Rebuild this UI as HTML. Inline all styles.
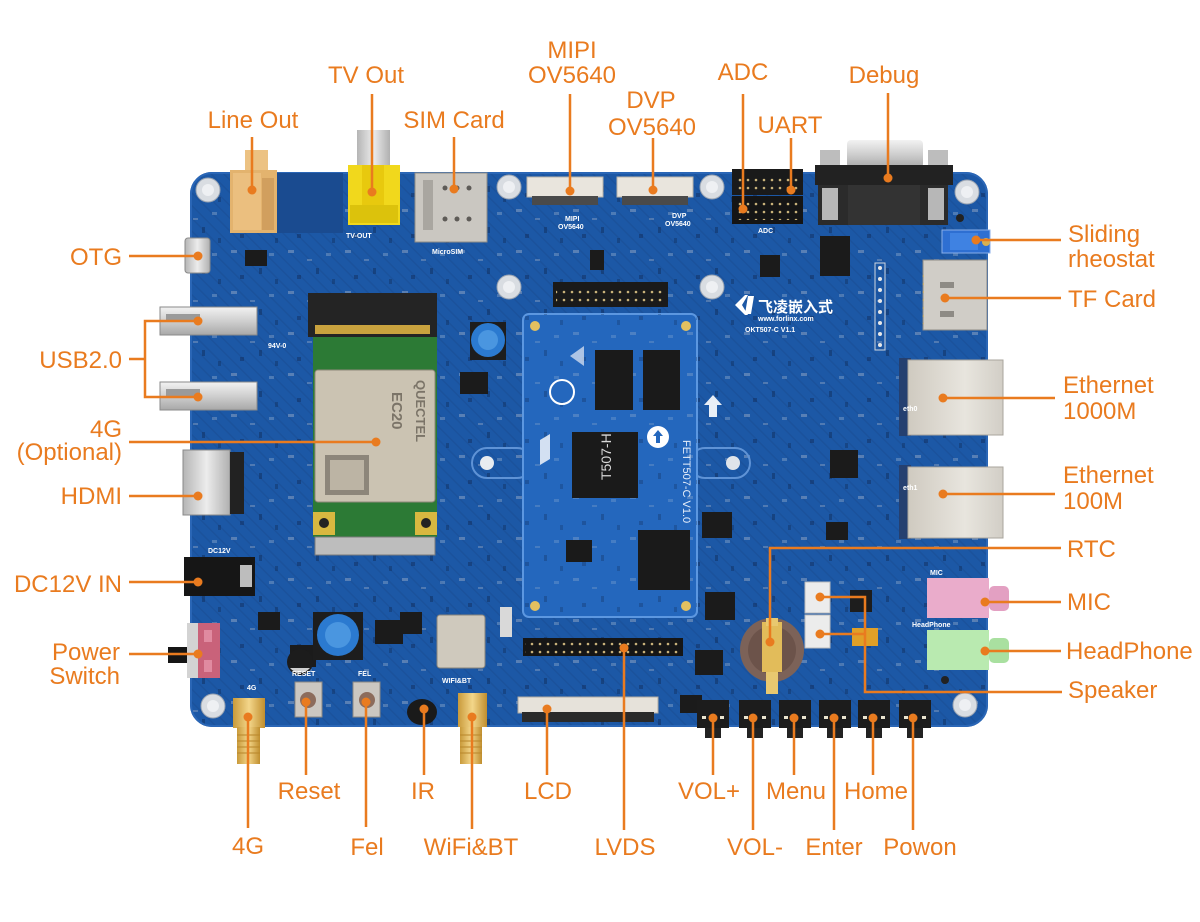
<!DOCTYPE html>
<html><head><meta charset="utf-8">
<style>
html,body{margin:0;padding:0;background:#fff;}
svg{display:block;}
.l{font-family:"Liberation Sans","Noto Sans CJK SC",sans-serif;font-size:24px;fill:#e97b1f;}
.s{font-family:"Liberation Sans",sans-serif;font-size:7px;fill:#fff;font-weight:bold;}
.ln{stroke:#e97b1f;stroke-width:2.5;fill:none;}
.d{fill:#e97b1f;}
</style></head><body>
<svg width="1200" height="922" viewBox="0 0 1200 922" xmlns="http://www.w3.org/2000/svg">
<defs>
 <pattern id="smd" width="57" height="41" patternUnits="userSpaceOnUse">
   <rect x="3" y="4" width="6" height="3" fill="#c7ccd3" opacity=".35"/>
   <rect x="31" y="22" width="3" height="6" fill="#0f2a55" opacity=".45"/>
   <rect x="41" y="7" width="5" height="3" fill="#dfe3e8" opacity=".25"/>
   <rect x="12" y="29" width="4" height="4" fill="#10244a" opacity=".4"/>
   <rect x="22" y="13" width="5" height="2" fill="#c7ccd3" opacity=".3"/>
   <rect x="47" y="33" width="3" height="5" fill="#0f2a55" opacity=".4"/>
 </pattern>
 <pattern id="trace" width="9" height="9" patternUnits="userSpaceOnUse" patternTransform="rotate(45)">
   <rect width="9" height="1.5" fill="#164585" opacity=".3"/>
 </pattern>
 <pattern id="pins" width="8" height="8" patternUnits="userSpaceOnUse">
   <circle cx="4" cy="4" r="1.3" fill="#c9b27a"/>
 </pattern>
 <linearGradient id="silver" x1="0" y1="0" x2="0" y2="1">
   <stop offset="0" stop-color="#f2f2f2"/><stop offset=".5" stop-color="#cfcfcf"/><stop offset="1" stop-color="#a8a8a8"/>
 </linearGradient>
 <linearGradient id="silverh" x1="0" y1="0" x2="1" y2="0">
   <stop offset="0" stop-color="#b5b5b5"/><stop offset=".5" stop-color="#ececec"/><stop offset="1" stop-color="#b0b0b0"/>
 </linearGradient>
 <linearGradient id="gold" x1="0" y1="0" x2="1" y2="0">
   <stop offset="0" stop-color="#c99a3a"/><stop offset=".5" stop-color="#f3d68a"/><stop offset="1" stop-color="#c08e2e"/>
 </linearGradient>
 <linearGradient id="eth" x1="0" y1="0" x2="1" y2="0">
   <stop offset="0" stop-color="#cfcac0"/><stop offset=".6" stop-color="#e8e5de"/><stop offset="1" stop-color="#d2cec6"/>
 </linearGradient>
</defs>

<rect width="1200" height="922" fill="#fff"/>

<!-- parts behind board top edge -->
<rect x="245" y="150" width="23" height="24" fill="#ecc283"/>
<rect x="357" y="130" width="33" height="38" fill="url(#silverh)"/>
<rect x="847" y="140" width="76" height="28" rx="4" fill="url(#silver)"/>
<rect x="820" y="150" width="20" height="20" fill="#bdbdbd"/>
<rect x="928" y="150" width="20" height="20" fill="#bdbdbd"/>

<!-- board -->
<rect x="190" y="172" width="798" height="555" rx="22" fill="#1c58a6"/>
<rect x="190" y="172" width="798" height="555" rx="22" fill="url(#trace)"/>
<rect x="190" y="172" width="798" height="555" rx="22" fill="url(#smd)"/>
<rect x="191" y="173" width="796" height="553" rx="21" fill="none" stroke="#2a66b6" stroke-width="2"/>

<!-- darker regions -->
<rect x="277" y="173" width="66" height="60" fill="#1a4b90"/>

<!-- mounting holes -->
<g fill="#d9dde2" stroke="#9aa4b2" stroke-width="1">
 <circle cx="208" cy="190" r="12"/><circle cx="509" cy="187" r="12"/><circle cx="712" cy="187" r="12"/>
 <circle cx="509" cy="287" r="12"/><circle cx="712" cy="287" r="12"/><circle cx="967" cy="192" r="12"/>
 <circle cx="965" cy="705" r="12"/><circle cx="213" cy="706" r="12"/>
</g>
<g fill="#eef0f3">
 <circle cx="208" cy="190" r="6"/><circle cx="509" cy="187" r="6"/><circle cx="712" cy="187" r="6"/>
 <circle cx="509" cy="287" r="6"/><circle cx="712" cy="287" r="6"/><circle cx="967" cy="192" r="6"/>
 <circle cx="965" cy="705" r="6"/><circle cx="213" cy="706" r="6"/>
</g>
<!-- oval hole areas beside core -->
<rect x="472" y="448" width="60" height="30" rx="15" fill="none" stroke="#5f93d6" stroke-width="2"/>
<circle cx="487" cy="463" r="7" fill="#e8ecf0"/>
<rect x="690" y="448" width="60" height="30" rx="15" fill="none" stroke="#5f93d6" stroke-width="2"/>
<circle cx="733" cy="463" r="7" fill="#dfe4ea"/>

<!-- Line Out jack -->
<rect x="230" y="170" width="47" height="63" fill="#e3b36e"/>
<rect x="233" y="173" width="28" height="57" fill="#ebbf7f"/>
<rect x="262" y="178" width="12" height="52" fill="#d19f5e"/>

<!-- TV out -->
<rect x="348" y="165" width="52" height="60" fill="#f1d81c"/>
<rect x="362" y="165" width="22" height="58" fill="#e8c90e"/>
<rect x="350" y="205" width="48" height="18" fill="#dcc20c"/>
<text x="346" y="238" class="s">TV-OUT</text>

<!-- SIM -->
<rect x="415" y="173" width="72" height="69" fill="#cac7c1" stroke="#8f8c86"/>
<rect x="423" y="180" width="10" height="50" fill="#a9a6a0"/>
<g fill="#5e5b57"><circle cx="445" cy="188" r="2.5"/><circle cx="457" cy="188" r="2.5"/><circle cx="469" cy="188" r="2.5"/>
<circle cx="445" cy="219" r="2.5"/><circle cx="457" cy="219" r="2.5"/><circle cx="469" cy="219" r="2.5"/></g>
<text x="432" y="254" class="s">MicroSIM</text>

<!-- MIPI / DVP FPC -->
<rect x="527" y="177" width="76" height="20" fill="#e9e5dd" stroke="#b9b4ab"/>
<rect x="532" y="196" width="66" height="9" fill="#4a4a4a"/>
<rect x="617" y="177" width="76" height="20" fill="#e9e5dd" stroke="#b9b4ab"/>
<rect x="622" y="196" width="66" height="9" fill="#4a4a4a"/>
<text x="565" y="221" class="s">MIPI</text><text x="558" y="229" class="s">OV5640</text>
<text x="672" y="218" class="s">DVP</text><text x="665" y="226" class="s">OV5640</text>

<!-- headers UART / ADC -->
<rect x="732" y="169" width="71" height="26" fill="#1a1a1a"/>
<rect x="732" y="196" width="71" height="28" fill="#151515"/>
<rect x="738" y="174" width="60" height="18" fill="url(#pins)"/>
<rect x="738" y="202" width="60" height="18" fill="url(#pins)"/>
<text x="758" y="233" class="s">ADC</text>

<!-- DB9 -->
<rect x="815" y="165" width="138" height="20" fill="#222"/>
<rect x="818" y="185" width="130" height="40" fill="#2b2b2b"/>
<rect x="848" y="185" width="72" height="40" fill="#333"/>
<rect x="822" y="188" width="16" height="32" fill="#b7b7b7"/>
<rect x="928" y="188" width="16" height="32" fill="#b7b7b7"/>
<circle cx="960" cy="218" r="4" fill="#222"/>

<!-- rheostat -->
<rect x="942" y="230" width="48" height="23" fill="#2e6fd2" stroke="#88aee8"/>
<rect x="950" y="233" width="28" height="17" fill="#3f82e2"/>
<circle cx="986" cy="242" r="4" fill="#d8b050"/>

<!-- TF card -->
<rect x="923" y="260" width="64" height="70" fill="#d0cdc7" stroke="#8e8b85"/>
<rect x="940" y="282" width="14" height="6" fill="#8e8b85"/>
<rect x="940" y="311" width="14" height="6" fill="#8e8b85"/>
<rect x="920" y="270" width="4" height="54" fill="url(#pins)"/>

<!-- P12 column -->
<rect x="875" y="263" width="10" height="87" fill="none" stroke="#cfd6df" stroke-width="1"/>
<g fill="#e8e8e8"><circle cx="880" cy="268" r="2"/><circle cx="880" cy="279" r="2"/><circle cx="880" cy="290" r="2"/><circle cx="880" cy="301" r="2"/><circle cx="880" cy="312" r="2"/><circle cx="880" cy="323" r="2"/><circle cx="880" cy="334" r="2"/><circle cx="880" cy="345" r="2"/></g>

<!-- Forlinx logo -->
<path d="M735 305 l10 -10 l3 0 l-6 10 l6 10 l-3 0 z M748 296 l6 0 l-3 18 l-6 0 z" fill="#fff"/>
<text x="758" y="312" font-family="'Liberation Sans','Noto Sans CJK SC',sans-serif" font-size="15" font-weight="bold" fill="#fff">飞凌嵌入式</text>
<text x="758" y="321" class="s" font-size="6">www.forlinx.com</text>
<text x="745" y="332" class="s">OKT507-C V1.1</text>

<!-- Ethernet -->
<rect x="899" y="358" width="12" height="78" fill="#254070"/>
<rect x="908" y="360" width="95" height="75" fill="url(#eth)" stroke="#a9a59d"/>
<text x="903" y="411" class="s">eth0</text>
<rect x="899" y="465" width="12" height="74" fill="#254070"/>
<rect x="908" y="467" width="95" height="71" fill="url(#eth)" stroke="#a9a59d"/>
<text x="903" y="490" class="s">eth1</text>

<!-- audio jacks -->
<text x="930" y="575" class="s">MIC</text>
<rect x="927" y="578" width="62" height="40" fill="#eaaccb"/>
<rect x="989" y="586" width="20" height="25" rx="5" fill="#e3a0c2"/>
<text x="912" y="627" class="s">HeadPhone</text>
<rect x="927" y="630" width="62" height="40" fill="#b9eab0"/>
<rect x="989" y="638" width="20" height="25" rx="5" fill="#a9e0a0"/>
<circle cx="945" cy="680" r="4" fill="#222"/>

<!-- white connectors -->
<rect x="805" y="582" width="25" height="31" fill="#ececec" stroke="#bdbdbd"/>
<rect x="805" y="615" width="25" height="33" fill="#ececec" stroke="#bdbdbd"/>
<rect x="850" y="590" width="22" height="22" fill="#1d1d1d"/>
<rect x="852" y="628" width="26" height="18" fill="#e0a028"/>

<!-- coin battery -->
<circle cx="772" cy="650" r="32" fill="#7c6258"/>
<circle cx="772" cy="650" r="24" fill="#6c534a"/>
<rect x="762" y="622" width="20" height="50" fill="#e2bc5a"/>
<rect x="766" y="672" width="12" height="22" fill="#e8c870"/>
<rect x="766" y="618" width="12" height="8" fill="#e8c870"/>

<!-- misc chips -->
<g fill="#1b1b1b">
 <rect x="245" y="250" width="22" height="16"/><rect x="590" y="250" width="14" height="20"/>
 <rect x="820" y="236" width="30" height="40"/><rect x="830" y="450" width="28" height="28"/>
 <rect x="826" y="522" width="22" height="18"/><rect x="460" y="372" width="28" height="22"/>
 <rect x="290" y="645" width="26" height="22"/><rect x="375" y="620" width="28" height="24"/>
 <rect x="705" y="592" width="30" height="28"/><rect x="695" y="650" width="28" height="25"/>
 <rect x="702" y="512" width="30" height="26"/><rect x="760" y="255" width="20" height="22"/>
 <rect x="400" y="612" width="22" height="22"/><rect x="258" y="612" width="22" height="18"/>
 <rect x="680" y="695" width="22" height="18"/>
</g>
<!-- Power inductor near bottom -->
<rect x="313" y="612" width="50" height="48" fill="#1d1d1d"/>
<circle cx="338" cy="635" r="21" fill="#2b7ad0"/>
<circle cx="338" cy="635" r="13" fill="#4a96e0"/>
<circle cx="300" cy="662" r="13" fill="#1c1c1c"/>
<path d="M290 668 a13 13 0 0 0 20 0 z" fill="#cfcfcf"/>

<!-- WiFi module -->
<rect x="437" y="615" width="48" height="53" rx="3" fill="#cfc9bd" stroke="#8a857c"/>
<rect x="500" y="607" width="12" height="30" fill="#d9d9d9"/>

<!-- LVDS header -->
<rect x="523" y="638" width="160" height="18" fill="#161616"/>
<rect x="525" y="639" width="156" height="16" fill="url(#pins)"/>

<!-- LCD connector -->
<rect x="518" y="697" width="140" height="16" fill="#e6e2da" stroke="#b0aba2"/>
<rect x="522" y="712" width="132" height="10" fill="#2a2a2a"/>

<!-- Reset / Fel buttons -->
<rect x="295" y="682" width="27" height="35" fill="#cbc7c1" stroke="#8c8984"/>
<circle cx="308" cy="700" r="8" fill="#8c6c5c"/>
<text x="292" y="676" class="s">RESET</text>
<rect x="353" y="682" width="27" height="35" fill="#cbc7c1" stroke="#8c8984"/>
<circle cx="367" cy="700" r="8" fill="#8c6c5c"/>
<text x="358" y="676" class="s">FEL</text>

<!-- IR -->
<ellipse cx="422" cy="712" rx="15" ry="13" fill="#1a1a1a"/>
<text x="442" y="683" class="s">WIFI&amp;BT</text>
<text x="247" y="690" class="s">4G</text>

<!-- core module -->
<rect x="523" y="314" width="174" height="303" rx="6" fill="#2467bd" stroke="#5c97e0" stroke-width="2"/>
<rect x="523" y="314" width="174" height="303" rx="6" fill="url(#smd)" opacity=".7"/>
<g fill="#1a1a1a">
 <rect x="595" y="350" width="38" height="60"/><rect x="643" y="350" width="37" height="60"/>
 <rect x="572" y="432" width="66" height="66"/><rect x="638" y="530" width="52" height="60"/>
 <rect x="566" y="540" width="26" height="22"/>
</g>
<text transform="translate(611,480) rotate(-90)" font-family="'Liberation Sans',sans-serif" font-size="14" fill="#d8d8d8">T507-H</text>
<circle cx="658" cy="437" r="11" fill="#fff"/>
<path d="M658 430 l-5 6 h3 v7 h4 v-7 h3 z" fill="#2467bd"/>
<path d="M570 356 l14 -10 l0 20 z" fill="#d0dcef" opacity=".8"/>
<circle cx="562" cy="392" r="12" fill="none" stroke="#fff" stroke-width="2"/>
<g fill="#e2c060"><circle cx="535" cy="326" r="5"/><circle cx="686" cy="326" r="5"/><circle cx="535" cy="606" r="5"/><circle cx="686" cy="606" r="5"/></g>
<text transform="translate(683,440) rotate(90)" font-family="'Liberation Sans',sans-serif" font-size="11" fill="#e6eefa">FETT507-C V1.0</text>
<path d="M540 440 l10 -6 l0 25 l-10 6 z" fill="#fff" opacity=".8"/>

<!-- P38 header -->
<rect x="553" y="282" width="115" height="25" fill="#1a1a1a"/>
<rect x="556" y="286" width="110" height="18" fill="url(#pins)"/>
<!-- inductor L1 -->
<rect x="470" y="322" width="36" height="38" fill="#1d1d1d"/>
<circle cx="488" cy="340" r="17" fill="#2b7ad0"/>
<circle cx="488" cy="340" r="10" fill="#4a96e0"/>
<!-- board arrow -->
<path d="M713 395 l-9 10 h5 v12 h8 v-12 h5 z" fill="#e8eef6"/>

<!-- M.2 4G module -->
<rect x="308" y="293" width="129" height="44" fill="#242424"/>
<rect x="315" y="325" width="115" height="9" fill="#c9a23e"/>
<rect x="313" y="337" width="124" height="200" fill="#2c7a35"/>
<rect x="315" y="370" width="120" height="132" rx="3" fill="#cbc3b2" stroke="#8f887a"/>
<rect x="325" y="455" width="44" height="40" fill="#8d867a"/>
<rect x="330" y="460" width="34" height="30" fill="#bcb4a4"/>
<text transform="translate(392,392) rotate(90)" font-family="'Liberation Sans',sans-serif" font-size="15" font-weight="bold" fill="#7b7468">EC20</text>
<text transform="translate(416,380) rotate(90)" font-family="'Liberation Sans',sans-serif" font-size="13" font-weight="bold" fill="#7b7468">QUECTEL</text>
<rect x="313" y="512" width="22" height="23" fill="#d8b840"/>
<rect x="415" y="512" width="22" height="23" fill="#d8b840"/>
<circle cx="324" cy="523" r="5" fill="#222"/><circle cx="426" cy="523" r="5" fill="#222"/>
<rect x="315" y="537" width="120" height="18" fill="#bdbdbd" stroke="#7a7a7a"/>

<!-- left edge connectors -->
<rect x="185" y="238" width="25" height="35" rx="3" fill="url(#silverh)" stroke="#8a8a8a"/>
<rect x="160" y="307" width="97" height="28" fill="url(#silver)" stroke="#8a8a8a"/>
<rect x="166" y="314" width="34" height="8" fill="#9a9a9a"/>
<rect x="160" y="382" width="97" height="28" fill="url(#silver)" stroke="#8a8a8a"/>
<rect x="166" y="389" width="34" height="8" fill="#9a9a9a"/>
<text x="268" y="348" class="s">94V-0</text>
<rect x="183" y="450" width="47" height="65" fill="url(#silverh)" stroke="#8a8a8a"/>
<rect x="230" y="452" width="14" height="62" fill="#222"/>
<text x="208" y="553" class="s">DC12V</text>
<rect x="184" y="557" width="71" height="39" fill="#161616"/>
<rect x="240" y="565" width="12" height="22" fill="#bdbdbd"/>
<rect x="168" y="647" width="19" height="16" fill="#151515"/>
<rect x="187" y="623" width="12" height="55" fill="#d3d3d3"/>
<rect x="198" y="623" width="22" height="55" fill="#c9627a"/>
<rect x="204" y="630" width="8" height="12" fill="#e08aa0"/>
<rect x="204" y="660" width="8" height="12" fill="#e08aa0"/>

<!-- antennas -->
<rect x="233" y="698" width="32" height="30" fill="url(#gold)"/>
<rect x="237" y="727" width="23" height="37" fill="url(#gold)"/>
<g stroke="#b8862a" stroke-width="1"><line x1="237" y1="735" x2="260" y2="735"/><line x1="237" y1="741" x2="260" y2="741"/><line x1="237" y1="747" x2="260" y2="747"/><line x1="237" y1="753" x2="260" y2="753"/></g>
<rect x="458" y="693" width="29" height="34" fill="url(#gold)"/>
<rect x="460" y="727" width="22" height="37" fill="url(#gold)"/>
<g stroke="#b8862a" stroke-width="1"><line x1="460" y1="735" x2="482" y2="735"/><line x1="460" y1="741" x2="482" y2="741"/><line x1="460" y1="747" x2="482" y2="747"/><line x1="460" y1="753" x2="482" y2="753"/></g>

<!-- bottom tact buttons -->
<g>
 <rect x="697" y="700" width="32" height="28" fill="#1c1c1c"/><rect x="705" y="728" width="16" height="10" fill="#222"/>
 <rect x="739" y="700" width="32" height="28" fill="#1c1c1c"/><rect x="747" y="728" width="16" height="10" fill="#222"/>
 <rect x="779" y="700" width="32" height="28" fill="#1c1c1c"/><rect x="787" y="728" width="16" height="10" fill="#222"/>
 <rect x="819" y="700" width="32" height="28" fill="#1c1c1c"/><rect x="827" y="728" width="16" height="10" fill="#222"/>
 <rect x="858" y="700" width="32" height="28" fill="#1c1c1c"/><rect x="866" y="728" width="16" height="10" fill="#222"/>
 <rect x="899" y="700" width="32" height="28" fill="#1c1c1c"/><rect x="907" y="728" width="16" height="10" fill="#222"/>
</g>
<g fill="#e9e4d0">
 <rect x="702" y="716" width="4" height="3"/><rect x="720" y="716" width="4" height="3"/>
 <rect x="744" y="716" width="4" height="3"/><rect x="762" y="716" width="4" height="3"/>
 <rect x="784" y="716" width="4" height="3"/><rect x="802" y="716" width="4" height="3"/>
 <rect x="824" y="716" width="4" height="3"/><rect x="842" y="716" width="4" height="3"/>
 <rect x="863" y="716" width="4" height="3"/><rect x="881" y="716" width="4" height="3"/>
 <rect x="904" y="716" width="4" height="3"/><rect x="922" y="716" width="4" height="3"/>
</g>

<!-- ===== callout lines ===== -->
<g class="ln">
 <line x1="252" y1="137" x2="252" y2="190"/>
 <line x1="372" y1="94" x2="372" y2="192"/>
 <line x1="454" y1="137" x2="454" y2="189"/>
 <line x1="570" y1="94" x2="570" y2="191"/>
 <line x1="653" y1="138" x2="653" y2="190"/>
 <line x1="743" y1="94" x2="743" y2="209"/>
 <line x1="791" y1="138" x2="791" y2="190"/>
 <line x1="888" y1="93" x2="888" y2="178"/>

 <line x1="976" y1="240" x2="1061" y2="240"/>
 <line x1="945" y1="298" x2="1061" y2="298"/>
 <line x1="943" y1="398" x2="1055" y2="398"/>
 <line x1="943" y1="494" x2="1055" y2="494"/>
 <polyline points="770,642 770,548 1061,548"/>
 <line x1="985" y1="602" x2="1061" y2="602"/>
 <line x1="985" y1="651" x2="1061" y2="651"/>
 <polyline points="820,597 865,597 865,692 1062,692"/>
 <line x1="820" y1="634" x2="865" y2="634"/>

 <line x1="129" y1="256" x2="198" y2="256"/>
 <line x1="129" y1="359" x2="145" y2="359"/>
 <polyline points="198,321 145,321 145,397 198,397"/>
 <line x1="129" y1="442" x2="376" y2="442"/>
 <line x1="129" y1="496" x2="198" y2="496"/>
 <line x1="129" y1="582" x2="198" y2="582"/>
 <line x1="129" y1="654" x2="198" y2="654"/>

 <line x1="248" y1="717" x2="248" y2="828"/>
 <line x1="306" y1="702" x2="306" y2="775"/>
 <line x1="366" y1="702" x2="366" y2="827"/>
 <line x1="424" y1="709" x2="424" y2="775"/>
 <line x1="472" y1="717" x2="472" y2="829"/>
 <line x1="547" y1="709" x2="547" y2="775"/>
 <line x1="624" y1="648" x2="624" y2="830"/>
 <line x1="713" y1="718" x2="713" y2="775"/>
 <line x1="753" y1="718" x2="753" y2="830"/>
 <line x1="794" y1="718" x2="794" y2="775"/>
 <line x1="834" y1="718" x2="834" y2="830"/>
 <line x1="873" y1="718" x2="873" y2="775"/>
 <line x1="913" y1="718" x2="913" y2="830"/>
</g>
<g class="d">
 <circle cx="252" cy="190" r="4.5"/><circle cx="372" cy="192" r="4.5"/><circle cx="454" cy="189" r="4.5"/>
 <circle cx="570" cy="191" r="4.5"/><circle cx="653" cy="190" r="4.5"/><circle cx="743" cy="209" r="4.5"/>
 <circle cx="791" cy="190" r="4.5"/><circle cx="888" cy="178" r="4.5"/>
 <circle cx="976" cy="240" r="4.5"/><circle cx="945" cy="298" r="4.5"/><circle cx="943" cy="398" r="4.5"/>
 <circle cx="943" cy="494" r="4.5"/><circle cx="770" cy="642" r="4.5"/><circle cx="985" cy="602" r="4.5"/>
 <circle cx="985" cy="651" r="4.5"/><circle cx="820" cy="597" r="4.5"/><circle cx="820" cy="634" r="4.5"/>
 <circle cx="198" cy="256" r="4.5"/><circle cx="198" cy="321" r="4.5"/><circle cx="198" cy="397" r="4.5"/>
 <circle cx="376" cy="442" r="4.5"/><circle cx="198" cy="496" r="4.5"/><circle cx="198" cy="582" r="4.5"/>
 <circle cx="198" cy="654" r="4.5"/>
 <circle cx="248" cy="717" r="4.5"/><circle cx="306" cy="702" r="4.5"/><circle cx="366" cy="702" r="4.5"/>
 <circle cx="424" cy="709" r="4.5"/><circle cx="472" cy="717" r="4.5"/><circle cx="547" cy="709" r="4.5"/>
 <circle cx="624" cy="648" r="4.5"/><circle cx="713" cy="718" r="4.5"/><circle cx="753" cy="718" r="4.5"/>
 <circle cx="794" cy="718" r="4.5"/><circle cx="834" cy="718" r="4.5"/><circle cx="873" cy="718" r="4.5"/>
 <circle cx="913" cy="718" r="4.5"/>
</g>

<!-- ===== labels ===== -->
<g class="l" text-anchor="middle">
 <text x="253" y="128">Line Out</text>
 <text x="366" y="83">TV Out</text>
 <text x="454" y="128">SIM Card</text>
 <text x="572" y="58">MIPI</text>
 <text x="572" y="83">OV5640</text>
 <text x="651" y="108">DVP</text>
 <text x="652" y="135">OV5640</text>
 <text x="743" y="80">ADC</text>
 <text x="790" y="133">UART</text>
 <text x="884" y="83">Debug</text>

 <text x="309" y="799">Reset</text>
 <text x="423" y="799">IR</text>
 <text x="548" y="799">LCD</text>
 <text x="709" y="799">VOL+</text>
 <text x="796" y="799">Menu</text>
 <text x="876" y="799">Home</text>

 <text x="248" y="854">4G</text>
 <text x="367" y="855">Fel</text>
 <text x="471" y="855">WiFi&amp;BT</text>
 <text x="625" y="855">LVDS</text>
 <text x="755" y="855">VOL-</text>
 <text x="834" y="855">Enter</text>
 <text x="920" y="855">Powon</text>
</g>
<g class="l" text-anchor="start">
 <text x="1068" y="242">Sliding</text>
 <text x="1068" y="267">rheostat</text>
 <text x="1068" y="307">TF Card</text>
 <text x="1063" y="393">Ethernet</text>
 <text x="1063" y="419">1000M</text>
 <text x="1063" y="483">Ethernet</text>
 <text x="1063" y="509">100M</text>
 <text x="1067" y="557">RTC</text>
 <text x="1067" y="610">MIC</text>
 <text x="1066" y="659">HeadPhone</text>
 <text x="1068" y="698">Speaker</text>
</g>
<g class="l" text-anchor="end">
 <text x="122" y="265">OTG</text>
 <text x="122" y="368">USB2.0</text>
 <text x="122" y="437">4G</text>
 <text x="122" y="460">(Optional)</text>
 <text x="122" y="504">HDMI</text>
 <text x="122" y="592">DC12V IN</text>
 <text x="120" y="660">Power</text>
 <text x="120" y="684">Switch</text>
</g>
</svg>
</body></html>
